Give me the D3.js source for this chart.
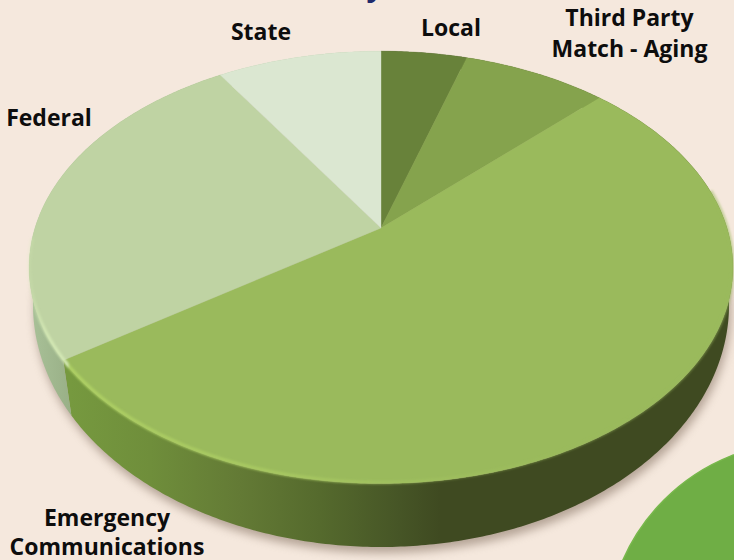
<!DOCTYPE html>
<html>
<head>
<meta charset="utf-8">
<script src="https://cdn.jsdelivr.net/npm/d3@7"></script>
<style>
  html, body { margin: 0; padding: 0; background: #f5e8dd; overflow: hidden; }
  text { font-family: "Open Sans", sans-serif; font-weight: 700; font-size: 23px; fill: #0d0d0d; }
</style>
</head>
<body>
<div id="pie_3d"></div>
<script>
const categories = ["Local", "Third Party Match - Aging", "Emergency Communications", "Federal", "State"];
const values = [4.7, 7.9, 52.8, 25.6, 9.0];
const colors = ["#68823a", "#85a34d", "#9aba5c", "#bfd3a3", "#dbe7d1"];

const labels = [
  {name: "State", x: 261, y: 40, gap: 0, lines: ["State"]},
  {name: "Local", x: 451, y: 36, gap: 0, lines: ["Local"]},
  {name: "Third Party", x: 629.5, y: 26, gap: 31, lines: ["Third Party", "Match - Aging"]},
  {name: "Federal", x: 49, y: 126, gap: 0, lines: ["Federal"]},
  {name: "Emergency", x: 107, y: 526, gap: 29, lines: ["Emergency", "Communications"]}
];

const width = 734, height = 560;

const svg = d3.select("#pie_3d")
  .append("svg")
  .attr("width", width)
  .attr("height", height)
  .style("display", "block");

const defs = svg.append("defs");

const blur = defs.append("filter").attr("id", "soft")
  .attr("x", "-10%").attr("y", "-10%").attr("width", "120%").attr("height", "120%");
blur.append("feGaussianBlur").attr("stdDeviation", 5);

const blurThin = defs.append("filter").attr("id", "bevel")
  .attr("x", "-10%").attr("y", "-10%").attr("width", "120%").attr("height", "120%");
blurThin.append("feGaussianBlur").attr("stdDeviation", 1);

function hGradient(id, stops) {
  const g = defs.append("linearGradient")
    .attr("id", id)
    .attr("gradientUnits", "userSpaceOnUse")
    .attr("x1", 0).attr("x2", width).attr("y1", 0).attr("y2", 0);
  stops.forEach(s => g.append("stop")
    .attr("offset", s[0] / width)
    .attr("stop-color", s[1])
    .attr("stop-opacity", s[2] === undefined ? 1 : s[2]));
}

hGradient("sideEmergency", [[70, "#76993f"], [150, "#6f8e3b"], [240, "#637a35"], [320, "#556a2d"], [400, "#465526"], [440, "#3f4a21"], [734, "#3f4a21"]]);
hGradient("sideFederal", [[30, "#a9c198"], [75, "#97ae85"]]);
hGradient("bevelLine", [[30, "#d3e8b4", 0.2], [45, "#d3e8b4", 0.9], [68, "#d3e8b4", 1], [69, "#aed064", 1], [300, "#a9ca62", 0.8], [460, "#a6c662", 0.3], [560, "#9aba5c", 0.5], [734, "#9aba5c", 0.5]]);

// top face rim is an ellipse seen in perspective, so the apex sits above its middle
const apex = {x: 381, y: 228};
const rx = 346, ry = 209, k = -0.182;

function project(a, r) {
  const u = r * Math.sin(a), v = -r * Math.cos(a);
  const w = 1 + k * v;
  return [apex.x + rx * u / w, apex.y + ry * v / w];
}

// lower edge of the wall: same rim point moved onto the smaller ellipse below
const topRim = {cx: 381, cy: 267, rx: 352, ry: 217};
const baseRim = {cx: 381, cy: 305, rx: 348, ry: 242};

function projectBase(a) {
  const p = project(a, 1);
  const phi = Math.atan2((p[1] - topRim.cy) / topRim.ry, (p[0] - topRim.cx) / topRim.rx) - 0.03;
  return [baseRim.cx + baseRim.rx * Math.cos(phi), baseRim.cy + baseRim.ry * Math.sin(phi)];
}

const pie = d3.pie().sort(null).value(d => d)(values);
const line = d3.line();

function rimAngles(a0, a1) {
  const n = Math.max(2, Math.ceil((a1 - a0) / 0.01));
  return d3.range(n + 1).map(i => a0 + (a1 - a0) * i / n);
}

// shadow
svg.append("path")
  .attr("d", line(rimAngles(0, 2 * Math.PI).map(a => {
    const p = projectBase(a);
    return [p[0] + 2, p[1] + 6];
  })) + "Z")
  .attr("fill", "#8a7768")
  .attr("opacity", 0.6)
  .attr("filter", "url(#soft)");

// green circle in the corner
svg.append("circle")
  .attr("cx", 804).attr("cy", 640).attr("r", 198)
  .attr("fill", "#6fae45")
  .attr("stroke", "#78b84c")
  .attr("stroke-width", 1.5);

// wall
const sideFill = ["#3f4a21", "#3f4a21", "url(#sideEmergency)", "url(#sideFederal)", "#a9c198"];
svg.append("g").selectAll("path")
  .data(pie)
  .enter()
  .append("path")
  .attr("d", d => {
    const as = rimAngles(d.startAngle, d.endAngle);
    const pts = as.map(a => project(a, 1)).concat(as.slice().reverse().map(projectBase));
    return line(pts) + "Z";
  })
  .attr("fill", (d, i) => sideFill[i]);

// top face
svg.append("g").selectAll("path")
  .data(pie)
  .enter()
  .append("path")
  .attr("d", d => {
    const pts = [project(0, 0)].concat(rimAngles(d.startAngle, d.endAngle).map(a => project(a, 1)));
    return line(pts) + "Z";
  })
  .attr("fill", (d, i) => colors[i])
  .attr("stroke", (d, i) => colors[i])
  .attr("stroke-width", 0.4);

// light bevel along the front rim
const bevelStart = pie[2].startAngle + 0.6;
const bevelEnd = pie[3].startAngle + 0.55;
svg.append("path")
  .attr("d", line(rimAngles(bevelStart, bevelEnd).map(a => {
    const p = project(a, 1);
    return [p[0], p[1] - 1];
  })))
  .attr("fill", "none")
  .attr("stroke", "url(#bevelLine)")
  .attr("stroke-width", 3.5)
  .attr("filter", "url(#bevel)");

// labels
const label = svg.append("g").selectAll("text")
  .data(labels)
  .enter()
  .append("text")
  .attr("text-anchor", "middle")
  .attr("y", d => d.y);

label.selectAll("tspan")
  .data(d => d.lines.map((l, i) => ({l, i, x: d.x, gap: d.gap})))
  .enter()
  .append("tspan")
  .attr("x", d => d.x)
  .attr("dy", d => d.i ? d.gap : 0)
  .text(d => d.l);

// tail of the cut off title
svg.append("text")
  .attr("x", 375).attr("y", -4)
  .style("font-size", "30px")
  .style("fill", "#1f2a6b")
  .attr("text-anchor", "middle")
  .text("y");
</script>
</body>
</html>
